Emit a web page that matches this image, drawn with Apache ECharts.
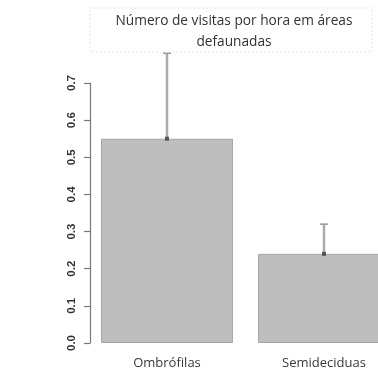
<!DOCTYPE html>
<html>
<head>
<meta charset="utf-8">
<script src="https://cdn.jsdelivr.net/npm/echarts@6/dist/echarts.min.js"></script>
<style>
  html, body { margin: 0; padding: 0; background: #fff; }
  #chart { width: 378px; height: 370px; }
</style>
</head>
<body>
<div id="chart"></div>
<script>
// Visits per hour in defaunated areas, by forest type
const categories = ['Ombrófilas', 'Semideciduas'];
const meanVisits = [0.55, 0.24];
const upperError = [0.78, 0.32];
const tickLabels = ['0.0', '0.1', '0.2', '0.3', '0.4', '0.5', '0.6', '0.7'];
const titleLines = ['Número de visitas por hora em áreas', 'defaunadas'];

const chart = echarts.init(document.getElementById('chart'), null, { renderer: 'canvas' });

const plotBottom = 27;        // distance of the zero line from the bottom edge
const unitPx = 371.4;         // pixels per 1.0 on the value scale
const plotMax = 0.8;
const axisMax = 0.7;
const H = 370;

const errorData = categories.map((c, i) => [i, meanVisits[i], upperError[i]]);

chart.setOption({
  animation: false,
  backgroundColor: '#fff',
  grid: [
    { // plotting region (wider than the canvas; the second bar runs off the edge)
      left: 88.5, right: -24.5, bottom: plotBottom,
      top: H - plotBottom - unitPx * plotMax,
      outerBoundsMode: 'none'
    },
    { // axis region, drawn only from 0 to 0.7
      left: 90, width: 10, bottom: plotBottom,
      top: H - plotBottom - unitPx * axisMax,
      outerBoundsMode: 'none'
    }
  ],
  xAxis: [
    {
      gridIndex: 0, type: 'category', data: categories,
      axisLine: { show: false }, axisTick: { show: false },
      axisLabel: {
        margin: 14, fontFamily: 'Open Sans', fontSize: 13, color: '#3a3a3a'
      }
    },
    { gridIndex: 1, type: 'value', show: false }
  ],
  yAxis: [
    { gridIndex: 0, type: 'value', min: 0, max: plotMax, show: false },
    {
      gridIndex: 1, type: 'value', min: 0, max: axisMax, interval: 0.1,
      splitLine: { show: false },
      axisLine: { show: true, lineStyle: { color: '#777', width: 1.2 } },
      axisTick: { show: true, length: 6, lineStyle: { color: '#777', width: 1.2 } },
      axisLabel: {
        rotate: 90, margin: 12, fontFamily: 'Liberation Sans', fontWeight: 'bold',
        fontSize: 11.5, color: '#333',
        formatter: (v) => tickLabels[Math.round(v * 10)]
      }
    }
  ],
  series: [
    {
      type: 'bar', xAxisIndex: 0, yAxisIndex: 0,
      data: meanVisits, barCategoryGap: '16%',
      itemStyle: { color: '#bebebe', borderColor: '#a4a4a4', borderWidth: 1 }
    },
    {
      type: 'custom', xAxisIndex: 0, yAxisIndex: 0, z: 5,
      data: errorData,
      renderItem: function (params, api) {
        const base = api.coord([api.value(0), api.value(1)]);
        const top = api.coord([api.value(0), api.value(2)]);
        const x = base[0];
        return {
          type: 'group',
          children: [
            { type: 'line', shape: { x1: x, y1: base[1], x2: x, y2: top[1] },
              style: { stroke: '#aaa', lineWidth: 2.5 } },
            { type: 'line', shape: { x1: x - 4, y1: top[1], x2: x + 4, y2: top[1] },
              style: { stroke: '#999', lineWidth: 1.5 } },
            { type: 'rect', shape: { x: x - 2, y: base[1] - 2, width: 4, height: 4 },
              style: { fill: '#555' } }
          ]
        };
      }
    }
  ],
  graphic: [
    {
      type: 'rect', x: 90, y: 8,
      shape: { width: 282, height: 44 },
      style: { fill: 'none', stroke: '#e4e4e4', lineWidth: 1, lineDash: [2, 2] }
    },
    {
      type: 'text', x: 234, y: 11,
      style: {
        text: titleLines.join('\n'),
        fontFamily: 'Open Sans', fontSize: 13.7, lineHeight: 21,
        fill: '#333', align: 'center', verticalAlign: 'top'
      }
    }
  ]
});
</script>
</body>
</html>
